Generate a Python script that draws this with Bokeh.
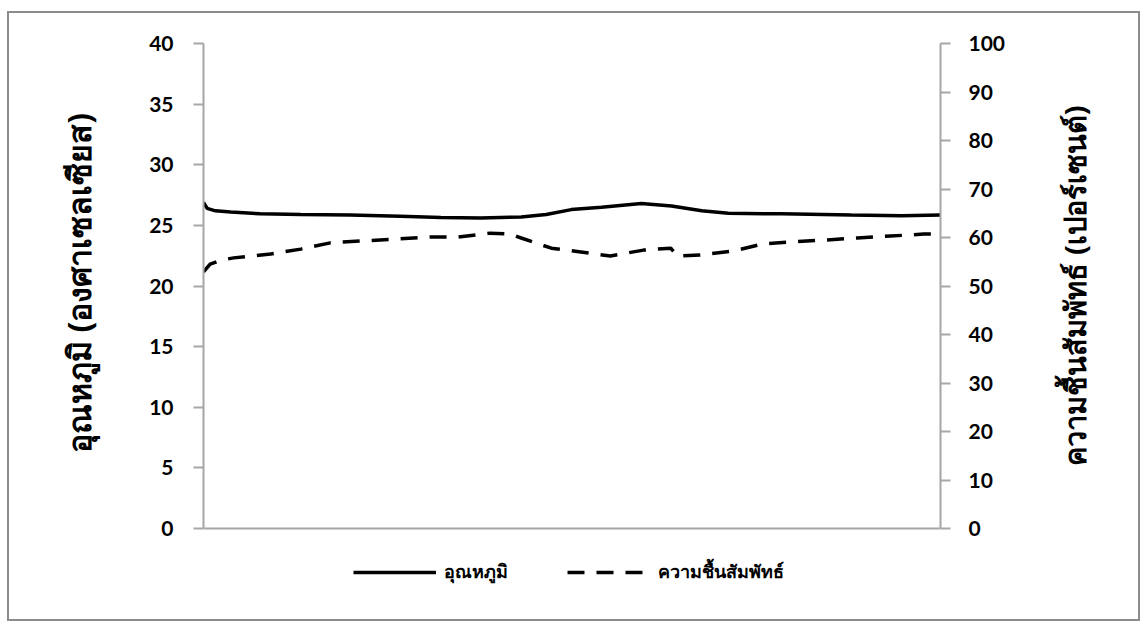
import math
from bokeh.plotting import figure
from bokeh.layouts import row
from bokeh.models import Range1d, LinearAxis, FixedTicker, Legend, LegendItem, Span, Label
from bokeh.embed import file_html
from bokeh.resources import INLINE

# ---- data (x = relative position along the record, 0-100) ----
temp_t = [0, 0.5, 1.6, 3.7, 7.7, 13.2, 19.9, 26.7, 32.2, 37.6, 43.1, 46.5, 49.9, 54.0, 59.4, 63.5, 67.6, 71.2, 78.4, 87.9, 94.7, 100]
temp_c = [26.9, 26.4, 26.2, 26.1, 25.95, 25.9, 25.85, 25.75, 25.65, 25.6, 25.7, 25.9, 26.3, 26.5, 26.8, 26.6, 26.2, 26.0, 25.95, 25.85, 25.8, 25.85]

hum_t = [0, 0.9, 2.3, 4.1, 9.1, 13.2, 17.2, 21.7, 26.3, 30.8, 34.5, 38.9, 41.7, 43.1, 47.2, 51.2, 55.2, 59.7, 63.4, 64.3, 67.4, 71.9, 75.9, 80.0, 84.6, 88.7, 93.2, 97.7, 100]
hum_rh = [52.9, 54.5, 55.3, 55.8, 56.6, 57.6, 58.9, 59.3, 59.7, 60.1, 60.1, 60.9, 60.7, 59.9, 57.8, 57.0, 56.2, 57.4, 57.8, 56.2, 56.4, 57.2, 58.7, 59.1, 59.5, 59.9, 60.3, 60.7, 60.7]

temp_ticks = [0, 5, 10, 15, 20, 25, 30, 35, 40]
rh_ticks = [0, 10, 20, 30, 40, 50, 60, 70, 80, 90, 100]

left_title = "อุณหภูมิ (องศาเซลเซียส)"
right_title = "ความชื้นสัมพัทธ์ (เปอร์เซนต์)"
temp_name = "อุณหภูมิ"
rh_name = "ความชื้นสัมพัทธ์"

AX = "#a6a6a6"
NUM_FONT = "Lato"
THAI_FONT = "Noto Sans"
PAD = "\u00a0" * 10   # lifts the centred left title to the middle of the 0-40 scale

# plotting frame extends below 0 to host the legend; axes are bounded to the data scale
T_MIN, T_MAX = -6.35, 40
RH_MIN, RH_MAX = T_MIN * 2.5, 100

H = 606
W_MAIN = 1011
W_SIDE = 118

p = figure(width=W_MAIN, height=H, output_backend="svg", toolbar_location=None,
           x_range=Range1d(0, 100), y_range=Range1d(T_MIN, T_MAX),
           x_axis_location=None,
           min_border_left=194, min_border_right=80, min_border_top=30, min_border_bottom=14)
p.extra_y_ranges = {"rh": Range1d(RH_MIN, RH_MAX)}
p.grid.visible = False
p.outline_line_color = None
p.background_fill_color = "white"
p.border_fill_color = "white"

# baseline at zero
p.add_layout(Span(location=0, dimension="width", line_color=AX, line_width=2))

ya = p.yaxis[0]
ya.ticker = FixedTicker(ticks=temp_ticks)
ya.bounds = (0, 40)
ya.axis_line_color = AX
ya.axis_line_width = 2
ya.major_tick_line_color = AX
ya.major_tick_line_width = 2
ya.major_tick_in = 0
ya.major_tick_out = 10
ya.minor_tick_line_color = None
ya.major_label_standoff = 20
ya.major_label_text_font = NUM_FONT
ya.major_label_text_font_style = "bold"
ya.major_label_text_font_size = "21px"
ya.major_label_text_color = "black"
ya.axis_label = PAD + left_title
ya.axis_label_text_font = THAI_FONT
ya.axis_label_text_font_style = "bold"
ya.axis_label_text_font_size = "32px"
ya.axis_label_text_color = "black"
ya.axis_label_standoff = 46

ra = LinearAxis(y_range_name="rh", ticker=FixedTicker(ticks=rh_ticks), bounds=(0, 100))
ra.axis_line_color = AX
ra.axis_line_width = 2
ra.major_tick_line_color = AX
ra.major_tick_line_width = 2
ra.major_tick_in = 0
ra.major_tick_out = 10
ra.minor_tick_line_color = None
ra.major_label_standoff = 18
ra.major_label_text_font = NUM_FONT
ra.major_label_text_font_style = "bold"
ra.major_label_text_font_size = "21px"
ra.major_label_text_color = "black"
p.add_layout(ra, "right")

r_t = p.line(temp_t, temp_c, line_color="black", line_width=3.5)
r_h = p.line(hum_t, hum_rh, y_range_name="rh", line_color="black", line_width=3.5,
             line_dash="17 12")

legend = Legend(items=[LegendItem(label=temp_name, renderers=[r_t]),
                       LegendItem(label=rh_name, renderers=[r_h])],
                orientation="horizontal", location=(150, 19),
                glyph_width=83, glyph_height=20, label_standoff=8, spacing=59,
                label_text_font=THAI_FONT, label_text_font_style="bold",
                label_text_font_size="18px", label_text_color="black",
                background_fill_alpha=0, border_line_color=None, padding=0, margin=0)
p.add_layout(legend, "center")

# side strip carrying the right-hand axis title (reads bottom-to-top)
side = figure(width=W_SIDE, height=H, output_backend="svg", toolbar_location=None,
              x_range=Range1d(0, W_SIDE), y_range=Range1d(0, H),
              x_axis_location=None, y_axis_location=None, min_border=0)
side.grid.visible = False
side.outline_line_color = None
side.background_fill_color = "white"
side.border_fill_color = "white"
side.add_layout(Label(x=54, y=H - 261, text=right_title, angle=math.pi / 2,
                      text_align="center", text_baseline="middle",
                      text_font=THAI_FONT, text_font_style="bold", text_font_size="29px",
                      text_color="black"))

layout = row(p, side, styles={"border": "2px solid #8c8c8c", "margin-left": "7px", "margin-top": "11px"})

open("out.html", "w").write(file_html(layout, INLINE))
